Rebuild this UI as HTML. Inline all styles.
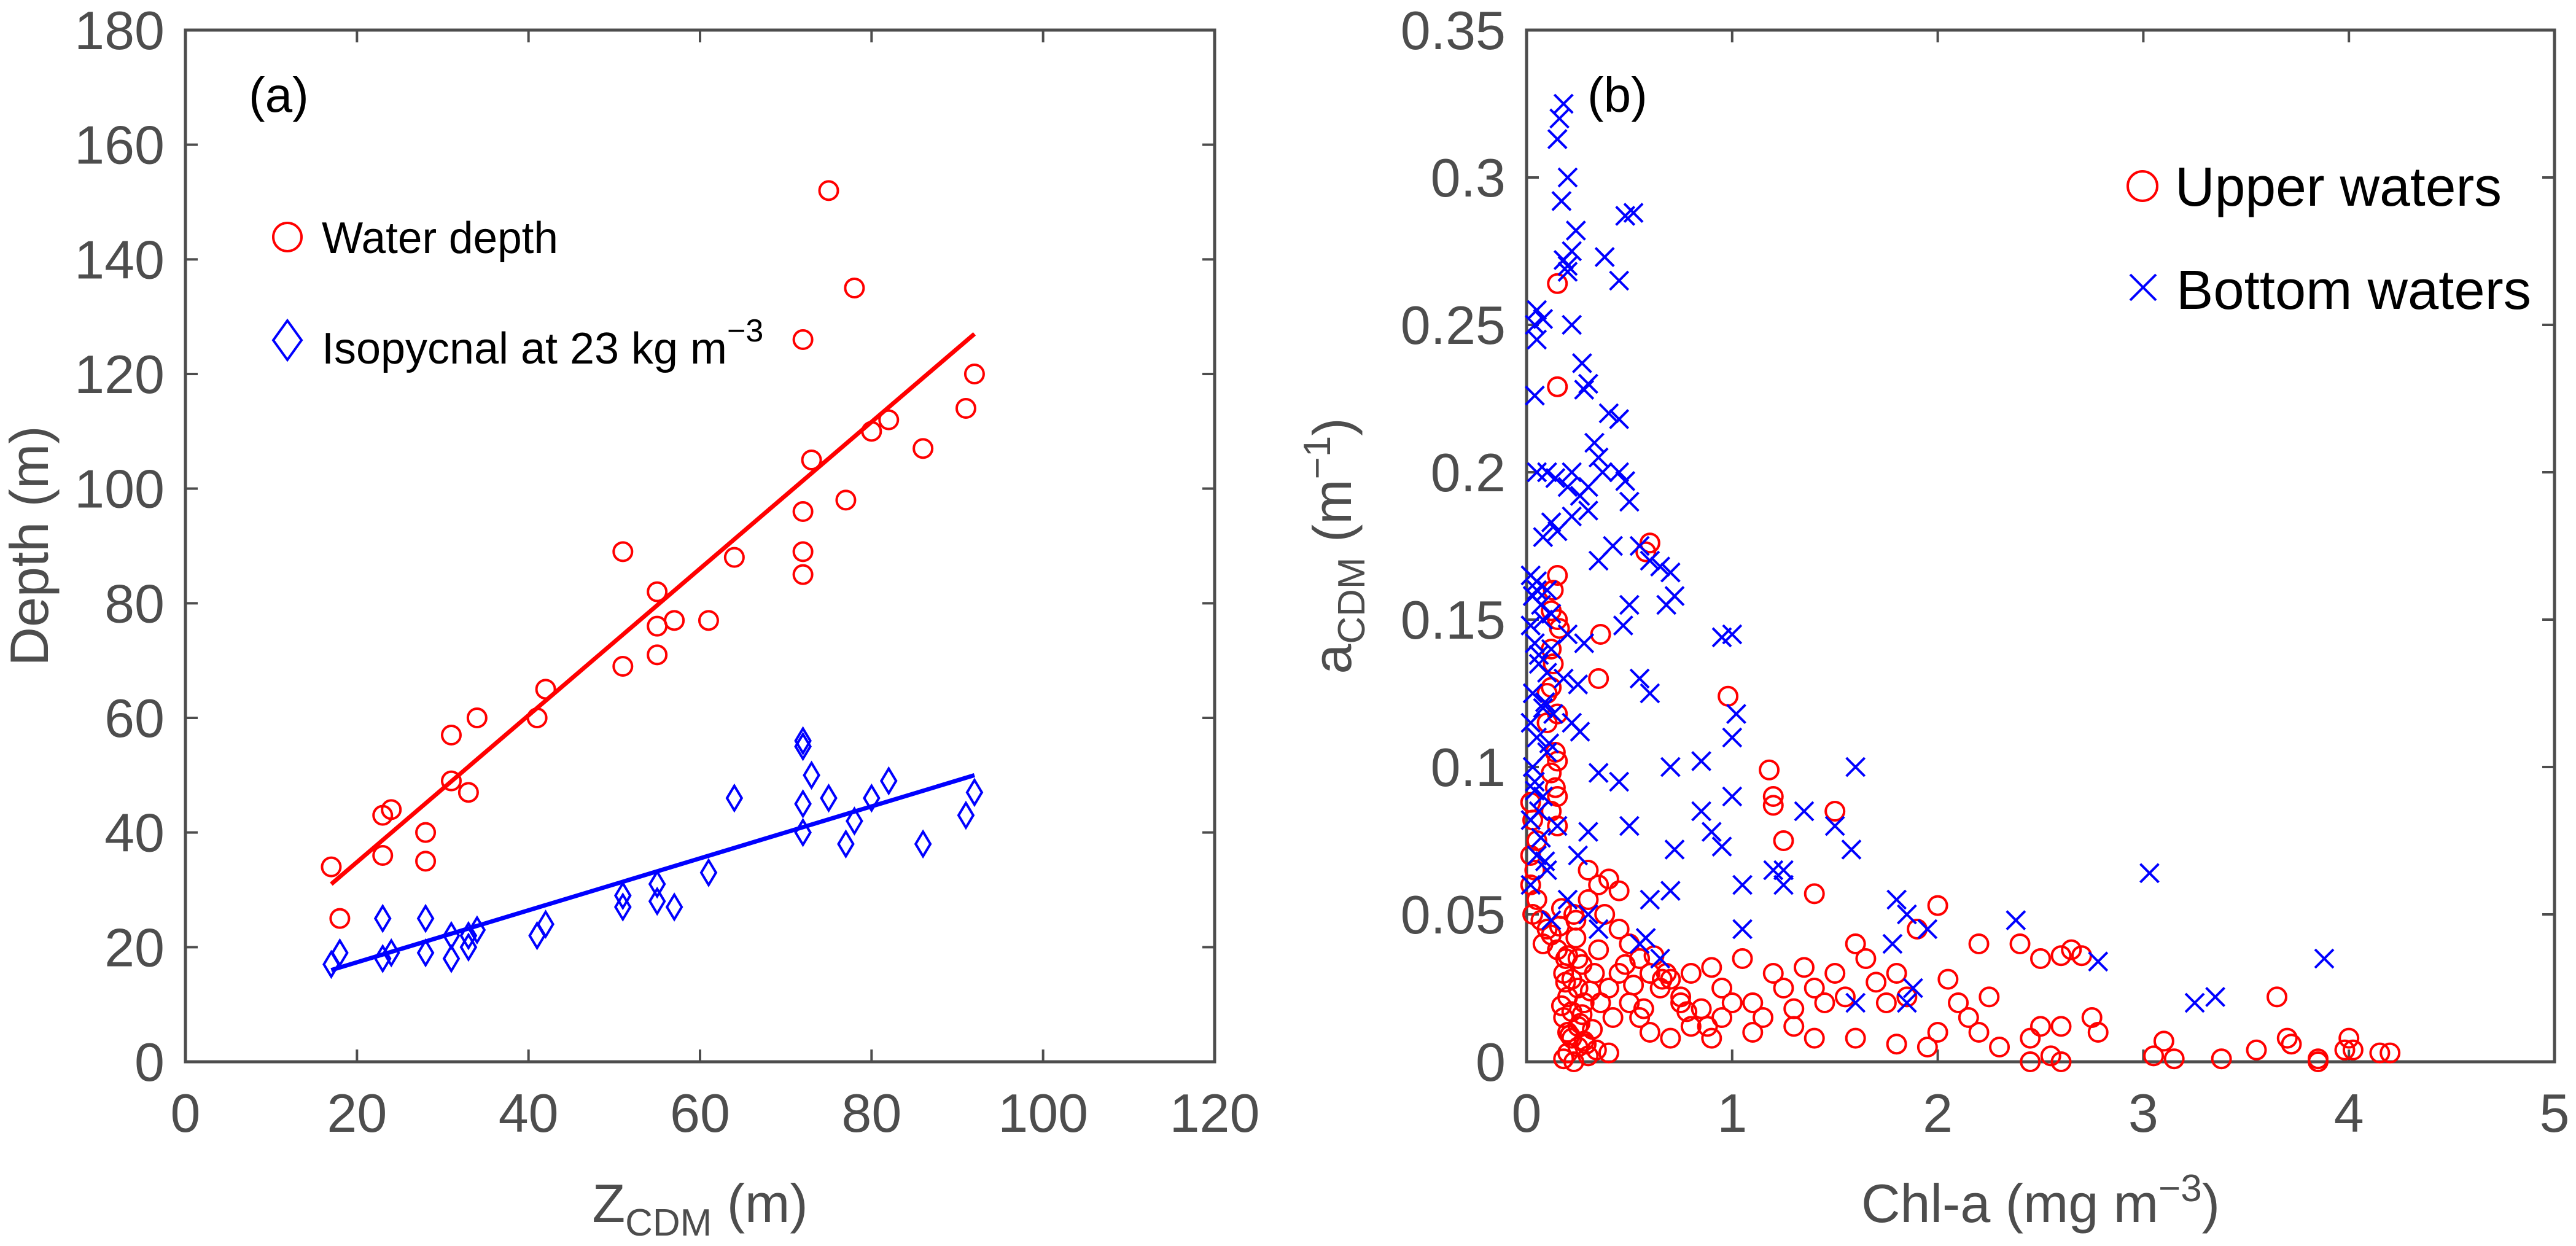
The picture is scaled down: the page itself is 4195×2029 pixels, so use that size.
<!DOCTYPE html>
<html><head><meta charset="utf-8"><style>
html,body{margin:0;padding:0;background:#fff;}
svg{display:block;font-family:"Liberation Sans",sans-serif;}
</style></head><body>
<svg id="fig" width="4195" height="2029" viewBox="0 0 4195 2029" xmlns="http://www.w3.org/2000/svg"></svg>
<script>
// ---- Panel (a) data ----
const waterX = [17,18,23,23,24,28,28,31,31,33,34,41,42,51,51,55,55,55,57,61,64,72,72,72,72,73,75,77,78,80,82,86,91,92];
const waterY = [34,25,43,36,44,40,35,57,49,47,60,60,65,89,69,82,76,71,77,77,88,126,96,89,85,105,152,98,135,110,112,107,114,120];
const isoX = [17,18,23,23,24,28,28,31,31,33,33,34,41,42,51,51,55,55,57,61,64,72,72,72,72,73,75,77,78,80,82,86,91,92];
const isoY = [17,19,25,18,19,25,19,22,18,20,22,23,22,24,27,29,31,28,27,33,46,55,56,45,40,50,46,38,42,46,49,38,43,47];
const waterFitX = [17,92];
const waterFitY = [31,127];
const isoFitX = [17,92];
const isoFitY = [16,50];
const aXTicks = [0,20,40,60,80,100,120];
const aYTicks = [0,20,40,60,80,100,120,140,160,180];

// ---- Panel (b) data ----
const bottomChl = [0.18,0.16,0.15,0.2,0.17,0.24,0.22,0.18,0.2,0.2,0.38,0.48,0.52,0.45,0.05,0.08,0.04,0.22,0.05,0.27,0.3,0.28,0.04,0.4,0.45,0.33,0.1,0.05,0.14,0.22,0.2,0.3,0.26,0.35,0.37,0.45,0.48,0.5,0.3,0.22,0.12,0.15,0.08,0.42,0.55,0.6,0.35,0.65,0.7,0.02,0.05,0.1,0.03,0.07,0.12,0.5,0.68,0.72,0.08,0.02,0.2,0.47,0.95,1.0,0.04,0.12,0.28,0.06,0.1,0.18,0.25,0.55,0.6,0.03,0.08,0.02,0.22,0.26,0.05,1.02,1.0,0.1,0.03,0.35,0.45,0.7,0.85,1.6,0.04,0.08,1.0,0.06,0.02,0.15,0.3,0.5,0.85,0.9,0.95,1.35,1.5,1.25,1.2,1.58,0.25,0.72,0.05,0.1,0.02,0.2,0.3,0.6,0.7,1.05,1.25,0.12,0.35,1.05,0.55,0.65,0.58,1.8,1.85,1.95,1.78,2.38,1.88,1.85,1.6,2.78,3.03,3.25,3.35,3.88,0.06,0.09,0.11,0.04,0.07,0.13,0.09,0.05];
const bottomA = [0.325,0.32,0.313,0.3,0.292,0.282,0.275,0.272,0.27,0.268,0.273,0.287,0.288,0.265,0.255,0.252,0.25,0.25,0.245,0.237,0.23,0.228,0.226,0.22,0.218,0.21,0.2,0.2,0.198,0.2,0.195,0.195,0.192,0.205,0.2,0.2,0.197,0.19,0.187,0.185,0.183,0.18,0.178,0.175,0.175,0.17,0.17,0.168,0.166,0.165,0.163,0.16,0.158,0.155,0.152,0.155,0.155,0.158,0.15,0.148,0.145,0.148,0.144,0.145,0.142,0.14,0.142,0.135,0.132,0.13,0.128,0.13,0.125,0.125,0.12,0.115,0.115,0.112,0.11,0.118,0.11,0.105,0.1,0.098,0.095,0.1,0.102,0.1,0.095,0.09,0.09,0.085,0.082,0.08,0.078,0.08,0.085,0.078,0.073,0.085,0.08,0.065,0.065,0.072,0.07,0.072,0.07,0.065,0.06,0.055,0.05,0.055,0.058,0.06,0.06,0.048,0.045,0.045,0.04,0.035,0.042,0.055,0.05,0.045,0.04,0.048,0.025,0.02,0.02,0.034,0.064,0.02,0.022,0.035,0.138,0.122,0.108,0.092,0.076,0.118,0.068,0.16];
const upperChl = [0.15,0.15,0.6,0.58,0.15,0.13,0.12,0.15,0.16,0.36,0.12,0.13,0.35,0.12,0.1,0.15,0.1,0.14,0.15,0.12,0.14,0.15,0.12,0.15,0.98,1.18,1.2,1.2,1.5,1.25,1.4,0.02,0.03,0.05,0.02,0.04,0.02,0.05,0.03,0.07,0.1,0.12,0.08,0.15,0.2,0.25,0.18,0.22,0.25,0.2,0.28,0.22,0.18,0.25,0.2,0.22,0.25,0.2,0.18,0.23,0.3,0.4,0.28,0.33,0.3,0.35,0.4,0.45,0.3,0.38,0.45,0.5,0.55,0.6,0.7,0.8,0.9,0.65,0.75,0.85,0.55,0.6,0.7,0.5,0.4,0.45,0.35,0.42,0.95,1.05,1.1,1.15,1.2,1.25,1.3,1.35,1.4,1.45,1.5,1.55,1.6,1.65,1.7,1.75,1.8,1.85,1.9,2.0,2.05,2.1,2.15,2.2,2.25,2.4,2.5,2.6,2.65,2.7,2.5,2.45,2.6,2.75,2.78,2.3,2.55,2.6,2.45,3.05,3.1,3.15,3.38,3.55,3.65,3.7,3.72,3.85,3.85,3.98,4.0,4.02,4.15,4.2,1.6,1.8,1.95,1.4,1.1,0.95,1.0,2.0,2.2,1.3,0.8,0.9,0.16,0.24,0.27,0.19,0.31,0.17,0.26,0.21,0.29,0.34,0.23,0.17,0.27,0.32,0.19,0.24,0.36,0.48,0.52,0.62,0.68,0.75,0.57,0.66,0.78,0.88];
const upperA = [0.264,0.229,0.176,0.173,0.165,0.16,0.153,0.15,0.147,0.145,0.14,0.135,0.13,0.127,0.125,0.118,0.115,0.105,0.102,0.098,0.093,0.09,0.085,0.08,0.124,0.099,0.09,0.087,0.085,0.075,0.057,0.088,0.082,0.075,0.07,0.065,0.06,0.055,0.05,0.048,0.045,0.043,0.04,0.038,0.036,0.035,0.03,0.028,0.025,0.022,0.02,0.017,0.015,0.012,0.01,0.008,0.005,0.003,0.001,0.0,0.002,0.003,0.007,0.03,0.065,0.06,0.062,0.058,0.055,0.05,0.045,0.04,0.035,0.03,0.028,0.03,0.032,0.025,0.02,0.018,0.015,0.01,0.008,0.02,0.025,0.03,0.038,0.015,0.025,0.035,0.02,0.015,0.03,0.025,0.018,0.032,0.025,0.02,0.03,0.022,0.04,0.035,0.027,0.02,0.03,0.022,0.045,0.053,0.028,0.02,0.015,0.04,0.022,0.04,0.035,0.036,0.038,0.036,0.012,0.008,0.012,0.015,0.01,0.005,0.002,0.0,0.0,0.002,0.007,0.001,0.001,0.004,0.022,0.008,0.006,0.001,0.0,0.004,0.008,0.004,0.003,0.003,0.008,0.006,0.005,0.008,0.01,0.015,0.02,0.01,0.01,0.012,0.012,0.008,0.046,0.042,0.033,0.027,0.024,0.019,0.013,0.009,0.006,0.004,0.05,0.052,0.016,0.011,0.035,0.048,0.02,0.033,0.026,0.036,0.03,0.022,0.018,0.028,0.017,0.012];
const bXTicks = [0,1,2,3,4,5];
const bYTicks = [0,0.05,0.1,0.15,0.2,0.25,0.3,0.35];
const bYTickLabels = ["0","0.05","0.1","0.15","0.2","0.25","0.3","0.35"];

const NS = "http://www.w3.org/2000/svg";
const svg = document.getElementById('fig');
const AX = "#4d4d4d";
function mk(tag, attrs, parent){
  const e = document.createElementNS(NS, tag);
  for (const k in attrs) e.setAttribute(k, attrs[k]);
  (parent||svg).appendChild(e);
  return e;
}
const TOP = 49, BOT = 1729;
const A = {x0:302, x1:1978, xmin:0, xmax:120, ymin:0, ymax:180};
const B = {x0:2486, x1:4160, xmin:0, xmax:5, ymin:0, ymax:0.35};
function sx(P, v){ return P.x0 + (v - P.xmin)/(P.xmax - P.xmin)*(P.x1 - P.x0); }
function sy(P, v){ return BOT - (v - P.ymin)/(P.ymax - P.ymin)*(BOT - TOP); }

function drawAxes(P, xt, yt, ytl, name){
  const g = mk('g', {});
  
  
  xt.forEach((t) => {
    const x = sx(P, t);
    mk('line', {x1:x, y1:BOT, x2:x, y2:BOT-20, stroke:AX, 'stroke-width':4}, g);
    mk('line', {x1:x, y1:TOP, x2:x, y2:TOP+20, stroke:AX, 'stroke-width':4}, g);
    const tx = mk('text', {x:x, y:1843, 'font-size':88, fill:AX, 'text-anchor':'middle'}, g);
    tx.textContent = String(t);
    
    
  });
  yt.forEach((t, i) => {
    const y = sy(P, t);
    mk('line', {x1:P.x0, y1:y, x2:P.x0+20, y2:y, stroke:AX, 'stroke-width':4}, g);
    mk('line', {x1:P.x1, y1:y, x2:P.x1-20, y2:y, stroke:AX, 'stroke-width':4}, g);
    const tx = mk('text', {x:P.x0-34, y:y+31, 'font-size':88, fill:AX, 'text-anchor':'end'}, g);
    tx.textContent = ytl ? ytl[i] : String(t);
    
    
  });
  mk('rect', {x:P.x0, y:TOP, width:P.x1-P.x0, height:BOT-TOP, fill:'none', stroke:AX, 'stroke-width':5}, g);
}

function circle(P, x, y, g){
  const c = mk('circle', {cx:sx(P,x), cy:sy(P,y), r:15, fill:'none', stroke:'#ff0000', 'stroke-width':4}, g);
  
  
}
function diamond(P, x, y, g){
  const cx = sx(P,x), cy = sy(P,y);
  const d = mk('path', {d:`M${cx},${cy-20}L${cx+12},${cy}L${cx},${cy+20}L${cx-12},${cy}Z`, fill:'none', stroke:'#0000ff', 'stroke-width':4}, g);
  
  
}
function cross(P, x, y, g){
  const cx = sx(P,x), cy = sy(P,y), s = 15;
  const d = mk('path', {d:`M${cx-s},${cy-s}L${cx+s},${cy+s}M${cx-s},${cy+s}L${cx+s},${cy-s}`, stroke:'#0000ff', 'stroke-width':4}, g);
  
  
}

// ---- Panel (a) ----
drawAxes(A, aXTicks, aYTicks, null, 'panel-a');
const ga = mk('g', {});


waterX.forEach((x,i) => {
  const c = mk('circle', {cx:sx(A,x), cy:sy(A,waterY[i]), r:15, fill:'none', stroke:'#ff0000', 'stroke-width':4}, ga);
  
  
});
isoX.forEach((x,i) => diamond(A, x, isoY[i], ga));
const wl = mk('line', {x1:sx(A,waterFitX[0]), y1:sy(A,waterFitY[0]), x2:sx(A,waterFitX[1]), y2:sy(A,waterFitY[1]), stroke:'#ff0000', 'stroke-width':7}, ga);


const il = mk('line', {x1:sx(A,isoFitX[0]), y1:sy(A,isoFitY[0]), x2:sx(A,isoFitX[1]), y2:sy(A,isoFitY[1]), stroke:'#0000ff', 'stroke-width':7}, ga);



// ---- Panel (b) ----
drawAxes(B, bXTicks, bYTicks, bYTickLabels, 'panel-b');
const gb = mk('g', {});


upperChl.forEach((x,i) => circle(B, x, upperA[i], gb));
bottomChl.forEach((x,i) => cross(B, x, bottomA[i], gb));
</script>
<svg style="position:absolute;left:0;top:0" width="4195" height="2029">
  <g font-family="Liberation Sans, sans-serif">
    <text x="405" y="182" font-size="80" fill="#000">(a)</text>
    <text x="2585" y="182" font-size="80" fill="#000">(b)</text>
    <g>
      <circle cx="468" cy="386" r="23" fill="none" stroke="#ff0000" stroke-width="4"/>
      <text x="524" y="412" font-size="72" fill="#000" textLength="385" lengthAdjust="spacingAndGlyphs">Water depth</text>
      <path d="M468,522L491,554L468,586L445,554Z" fill="none" stroke="#0000ff" stroke-width="4"/>
      <text x="524" y="592" font-size="72" fill="#000"><tspan textLength="660" lengthAdjust="spacingAndGlyphs">Isopycnal at 23 kg m</tspan><tspan dy="-36" font-size="52">−3</tspan></text>
    </g>
    <g>
      <circle cx="3489" cy="303" r="24" fill="none" stroke="#ff0000" stroke-width="4"/>
      <text x="3542" y="335" font-size="90" fill="#000" textLength="532" lengthAdjust="spacingAndGlyphs">Upper waters</text>
      <path d="M3469,447L3511,489M3469,489L3511,447" stroke="#0000ff" stroke-width="4"/>
      <text x="3544" y="503" font-size="90" fill="#000" textLength="578" lengthAdjust="spacingAndGlyphs">Bottom waters</text>
    </g>
    <text transform="translate(78,889) rotate(-90)" text-anchor="middle" font-size="88" fill="#4d4d4d">Depth (m)</text>
    <text x="1140" y="1990" text-anchor="middle" font-size="88" fill="#4d4d4d">Z<tspan dy="22" font-size="62">CDM</tspan><tspan dy="-22"> (m)</tspan></text>
    <text x="3323" y="1990" text-anchor="middle" font-size="88" fill="#4d4d4d">Chl-a (mg m<tspan dy="-34" font-size="62">−3</tspan><tspan dy="34">)</tspan></text>
    <text transform="translate(2200,889) rotate(-90)" text-anchor="middle" font-size="88" fill="#4d4d4d">a<tspan dy="22" font-size="62">CDM</tspan><tspan dy="-22"> (m</tspan><tspan dy="-34" font-size="62">−1</tspan><tspan dy="34">)</tspan></text>
  </g>
</svg>
</body></html>
